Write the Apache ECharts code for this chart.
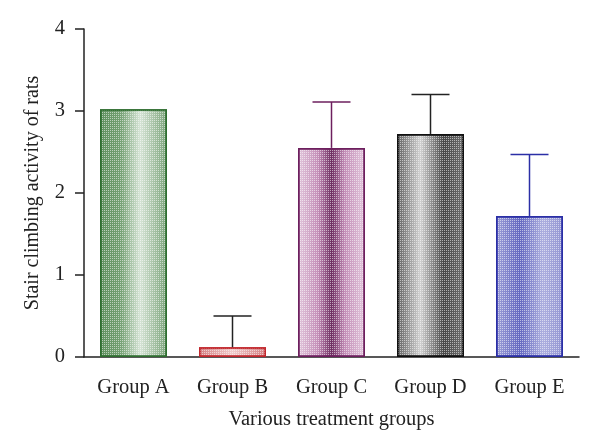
<!DOCTYPE html>
<html>
<head>
<meta charset="utf-8">
<script src="https://cdn.jsdelivr.net/npm/echarts@6/dist/echarts.min.js"></script>
<style>html,body{margin:0;padding:0;background:#fff}#c{width:600px;height:447px}</style>
</head>
<body>
<div id="c"></div>
<script>
var categories = ['Group A', 'Group B', 'Group C', 'Group D', 'Group E'];
var means = [3.02, 0.12, 2.55, 2.72, 1.72];
var errUpper = [0, 0.38, 0.56, 0.48, 0.75];
var yTicks = [0, 1, 2, 3, 4];
var xTitle = 'Various treatment groups';
var yTitle = 'Stair climbing activity of rats';

var edge = ['#2f6e30', '#c1272d', '#6d1f5e', '#111111', '#2b2fa6'];
var errColor = ['#222', '#222', '#6d1f5e', '#222', '#2b2fa6'];
function grad(stops){
  return {type:'linear', x:0, y:0, x2:1, y2:0, colorStops: stops.map(function(s){return {offset:s[0], color:s[1]};})};
}
var fills = [
  grad([[0,'#5f905e'],[0.3,'#729f71'],[0.6,'#d6e4d6'],[0.8,'#a8c3a7'],[1,'#7aa379']]),
  grad([[0,'#d47f82'],[0.5,'#f1cccc'],[1,'#d47f82']]),
  grad([[0,'#e2c7dc'],[0.3,'#c48eb8'],[0.5,'#6f2f62'],[0.7,'#c48eb8'],[1,'#e2c7dc']]),
  grad([[0,'#606060'],[0.35,'#d2d2d2'],[0.7,'#474747'],[1,'#707070']]),
  grad([[0,'#9ea0d8'],[0.35,'#6367c0'],[0.7,'#adafdf'],[1,'#9294d2']])
];

var font = '"Liberation Serif", "DejaVu Serif", serif';
var fs = 20.5;
var chart = echarts.init(document.getElementById('c'), null, {renderer:'canvas'});
chart.setOption({
  animation:false,
  backgroundColor:'#fff',
  grid:{left:84, right:21, top:29, bottom:90},
  xAxis:{
    type:'category', data:categories,
    axisLine:{lineStyle:{color:'#222', width:1.5}},
    axisTick:{alignWithLabel:true, length:10, lineStyle:{color:'#222', width:1.5}},
    axisLabel:{color:'#222', fontFamily:font, fontSize:fs, margin:20},
    name:xTitle, nameLocation:'middle', nameGap:52,
    nameTextStyle:{color:'#222', fontFamily:font, fontSize:fs}
  },
  yAxis:{
    type:'value', min:yTicks[0], max:yTicks[yTicks.length-1], interval:1,
    splitLine:{show:false},
    axisLine:{show:true, lineStyle:{color:'#222', width:1.5}},
    axisTick:{show:true, length:9, lineStyle:{color:'#222', width:1.5}},
    axisLabel:{color:'#222', fontFamily:font, fontSize:fs, margin:19},
    name:yTitle, nameLocation:'middle', nameGap:41,
    nameTextStyle:{color:'#222', fontFamily:font, fontSize:20}
  },
  series:[
    {
      type:'bar', barWidth:67, z:2,
      data: means.map(function(v,i){
        return {value:v, itemStyle:{color:fills[i], borderColor:edge[i], borderWidth:1.5,
          decal:{symbol:'rect', symbolSize:1, dashArrayX:[1,1], dashArrayY:[1,1], color:'rgba(255,255,255,0.55)', rotation:0}}};
      })
    },
    {
      type:'custom', z:3,
      data: means.map(function(v,i){return [i, v, v+errUpper[i]];}),
      renderItem:function(params, api){
        var i = api.value(0);
        if (errUpper[i] <= 0) return null;
        var p0 = api.coord([i, api.value(1)]);
        var p1 = api.coord([i, api.value(2)]);
        var c = errColor[i];
        var st = {stroke:c, lineWidth:1.5};
        return {type:'group', children:[
          {type:'line', shape:{x1:p0[0], y1:p0[1], x2:p1[0], y2:p1[1]}, style:st},
          {type:'line', shape:{x1:p1[0]-19, y1:p1[1], x2:p1[0]+19, y2:p1[1]}, style:st}
        ]};
      }
    }
  ]
});
</script>
</body>
</html>
